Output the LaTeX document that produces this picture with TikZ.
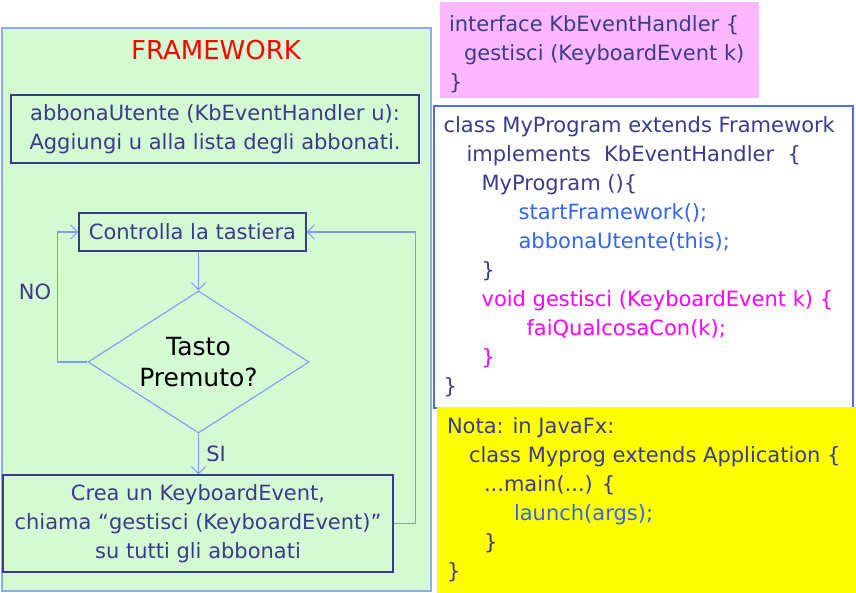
\documentclass[tikz,border=0pt]{standalone}
\usepackage{fontspec}
\setmainfont{DejaVu Sans}
\definecolor{navy}{HTML}{3B3B8C}
\definecolor{flowblue}{HTML}{7F9BF7}
\definecolor{codeblue}{HTML}{3366EE}
\definecolor{codemag}{HTML}{FF00FF}
\definecolor{fwgreen}{HTML}{D4FAD3}
\definecolor{fwedge}{HTML}{8EA9F5}
\definecolor{notepink}{HTML}{FFB8FF}
\definecolor{codeedge}{HTML}{4B6FE3}
\definecolor{noteyellow}{HTML}{FFFF00}
\usetikzlibrary{arrows.meta,positioning,shapes.geometric}

\newcommand{\txt}{\fontsize{21}{29}\selectfont}

\begin{document}
\begin{tikzpicture}[
  x=1pt, y=-1pt,
  stepbox/.style={draw=navy, line width=1.2pt, text=navy, font=\txt,
                  align=center, inner sep=3pt},
  decision/.style={diamond, draw=flowblue, line width=1.1pt, aspect=1.55,
                  minimum width=221pt, minimum height=142pt, inner sep=0pt,
                  font=\fontsize{25}{31}\selectfont, align=center},
  ar/.style={-{Straight Barb[length=7pt,width=14pt]}, draw=flowblue,
             line width=1.1pt},
  panel/.style={inner sep=0pt},
  codetext/.style={inner sep=0pt, align=left, text=navy, font=\txt},
  lbl/.style={text=navy, font=\txt},
]
  \useasboundingbox (0,0) rectangle (856,593);

  % ---- framework (left) ----
  \node[panel, draw=fwedge, fill=fwgreen, line width=1.2pt,
        minimum width=429pt, minimum height=563pt] (fw) at (216.5,309.5) {};
  \node[text=red, font=\fontsize{26}{30}\selectfont] (fwtitle) at (216,50) {FRAMEWORK};

  \node[stepbox, minimum width=408pt, minimum height=68pt] (subscribe) at (215,129)
       {abbonaUtente (KbEventHandler u):\\Aggiungi u alla lista degli abbonati.};
  \node[stepbox, minimum width=227pt, minimum height=38pt] (check) at (192.5,232)
       {Controlla la tastiera};
  \node[decision] (pressed) at (198.5,362) {Tasto\\Premuto?};
  \node[stepbox, minimum width=390pt, minimum height=97pt] (notify) at (198,523.5)
       {Crea un KeyboardEvent,\\chiama “gestisci (KeyboardEvent)”\\su tutti gli abbonati};

  \draw[ar] (pressed.north |- check.south) -- (pressed.north);
  \draw[ar] (pressed.west) -- ++(-30,0) |- (check.west);
  \draw[ar] (pressed.south) -- (pressed.south |- notify.north)
       node[midway, right=4pt, lbl] (yes) {SI};
  \draw[ar] (notify.east) -- ++(22,0) |- (check.east);
  \node[lbl] (no) at (35,292) {NO};

  % ---- codice (destra) ----
  \node[panel, fill=notepink, minimum width=319pt, minimum height=96pt] (iface) at (599.5,50) {};
  \node[codetext, right=9pt of iface.west, yshift=-4pt] (ifacetxt)
       {interface KbEventHandler \{\\
        \hspace*{15pt}gestisci (KeyboardEvent k)\\
        \}};

  \node[panel, draw=codeedge, fill=white, line width=1.2pt,
        minimum width=419pt, minimum height=302pt] (code) at (643.5,257) {};
  \node[codetext, right=10pt of code.west] (codetxt)
       {class MyProgram extends Framework\\
        \hspace*{23pt}implements\ \ KbEventHandler\ \ \{\\
        \hspace*{38pt}MyProgram ()\{\\
        \hspace*{75pt}\textcolor{codeblue}{startFramework();}\\
        \hspace*{75pt}\textcolor{codeblue}{abbonaUtente(this);}\\
        \hspace*{38pt}\}\\
        \hspace*{38pt}\textcolor{codemag}{void gestisci (KeyboardEvent k) \{}\\
        \hspace*{83pt}\textcolor{codemag}{faiQualcosaCon(k);}\\
        \hspace*{38pt}\textcolor{codemag}{\}}\\
        \}};

  \node[panel, fill=noteyellow, minimum width=419pt, minimum height=186pt] (note) at (646.5,500) {};
  \node[codetext, right=10pt of note.west] (notetxt)
       {Nota: in JavaFx:\\
        \hspace*{22pt}class Myprog extends Application \{\\
        \hspace*{37pt}...main(...) \{\\
        \hspace*{67pt}\textcolor{codeblue}{launch(args);}\\
        \hspace*{37pt}\}\\
        \}};
\end{tikzpicture}
\end{document}
